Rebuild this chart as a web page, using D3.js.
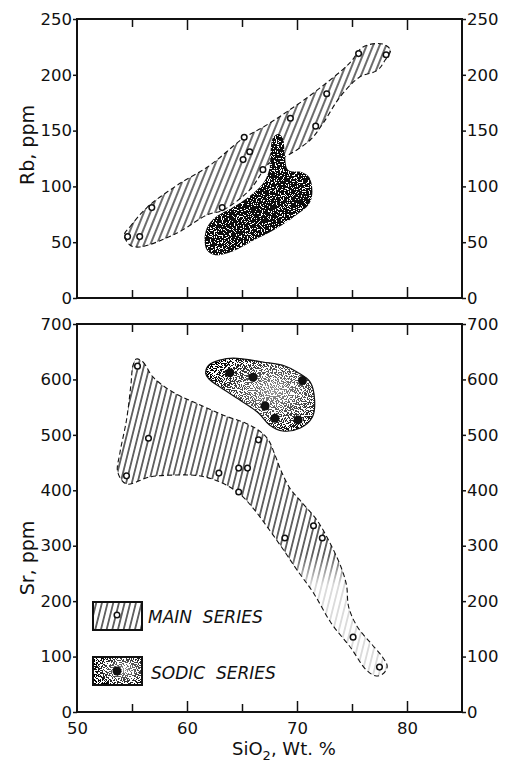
<!DOCTYPE html>
<html>
<head>
<meta charset="utf-8">
<script src="https://cdn.jsdelivr.net/npm/d3@7"></script>
<style>
  body { margin: 0; background: #fff; }
  text { font-family: "DejaVu Sans", sans-serif; fill: #111; }
</style>
</head>
<body>
<div id="chart"></div>
<script>
// tick values
let xMajor = [60, 70, 80];
let xMinor = [55, 65, 75];
let xLabels = [50, 60, 70, 80];
let rbTicks = [0, 50, 100, 150, 200, 250];
let srTicks = [0, 100, 200, 300, 400, 500, 600, 700];

// Rb panel, main series samples
let mainRbSiO2 = [54.6, 55.7, 56.8, 63.2, 65.2, 65.1, 65.7, 66.9, 69.4, 71.7, 72.7, 75.6, 78.1];
let mainRb = [55, 55, 81, 81, 144, 124, 131, 115, 161, 154, 183, 219, 218];

// Sr panel, main series samples
let mainSrSiO2 = [55.5, 56.5, 54.5, 62.9, 64.7, 65.5, 64.7, 66.5, 68.9, 71.5, 72.3, 75.1, 77.5];
let mainSr = [624, 494, 426, 431, 440, 440, 397, 491, 314, 336, 314, 135, 81];

// Sr panel, sodic series samples (dark dots)
let sodicSrSiO2 = [63.9, 66.0, 70.5, 67.1, 68.0, 70.1];
let sodicSr = [612, 604, 598, 552, 530, 527];

// envelopes [SiO2, ppm]
let mainRbField = [
  [54.3, 56.5], [54.8, 63.6], [56.4, 81.5], [59.1, 101], [62.1, 119], [65.1, 143],
  [66.9, 153], [69.1, 167], [71.8, 186], [74.8, 210.6], [76.0, 225], [77.8, 227.6],
  [78.5, 222], [78.0, 213], [77.3, 204], [75.7, 198], [73.9, 180], [72.4, 157],
  [71.2, 141.6], [68.7, 125.4], [67.5, 121], [65.7, 96.8], [63.3, 78.9], [61.8, 74.4],
  [59.1, 58.2], [55.7, 45.7], [54.8, 47.5]
];
let sodicRbField = [
  [61.6, 52], [61.8, 62.7], [62.5, 71.7], [64.2, 81.5], [65.7, 91.4], [67.0, 104],
  [67.5, 116.5], [67.6, 132.6], [67.8, 143.4], [68.3, 147], [68.7, 143.4], [68.9, 128],
  [69.2, 114.7], [70.4, 112.9], [71.1, 108.4], [71.4, 95], [71.1, 84.2], [69.7, 72.6],
  [67.9, 61], [66.1, 52], [64.2, 42], [62.5, 38.5], [61.8, 43]
];
let mainSrField = [
  [55.4, 636.8], [56.0, 631.4], [56.9, 604.4], [58.7, 577.3], [61.2, 553.9], [63.5, 534],
  [65.3, 521.4], [66.6, 507], [67.4, 490.7], [68.0, 463.6], [68.6, 433], [69.4, 402.3],
  [70.5, 377], [71.8, 346.4], [73.0, 304.9], [74.0, 261.6], [74.5, 229.1], [74.7, 189.4],
  [75.5, 153.3], [76.7, 124.5], [77.7, 101], [78.2, 83], [77.9, 70.4], [77.2, 65],
  [76.3, 75.8], [74.9, 115.5], [73.1, 160.6], [71.5, 214.7], [70.0, 256.2], [68.9, 288.7],
  [67.5, 328.3], [66.0, 368], [64.8, 393.3], [63.0, 415], [61.2, 425.8], [59.1, 427.6],
  [56.6, 424], [54.5, 411.3], [53.7, 433], [53.9, 467.3], [54.5, 526.8], [54.9, 590], [55.1, 626]
];
let sodicSrField = [
  [61.7, 611], [62.0, 626], [63.0, 635], [64.2, 638.6], [66.9, 631.4], [68.9, 624.2],
  [70.0, 613.4], [71.2, 595.3], [71.6, 562.9], [71.4, 532.2], [70.3, 512.4], [68.7, 507],
  [67.5, 517.8], [66.5, 539.4], [64.8, 562.9], [63.0, 586.3], [62.0, 600.8]
];

let svg = d3.select("#chart").append("svg")
  .attr("width", 508)
  .attr("height", 767);

let defs = svg.append("defs");

function hatch(id, w, angle) {
  let p = defs.append("pattern")
    .attr("id", id)
    .attr("patternUnits", "userSpaceOnUse")
    .attr("width", w)
    .attr("height", 10)
    .attr("patternTransform", `rotate(${angle})`);
  p.append("line")
    .attr("x1", w / 2).attr("y1", 0)
    .attr("x2", w / 2).attr("y2", 10)
    .attr("stroke", "#000")
    .attr("stroke-width", 1.15);
}
hatch("hatchTop", 6, 22);
hatch("hatchBot", 5.5, 14);

// speckle filter: white flecks over the dark fill
function stipple(id, table, seed) {
  let f = defs.append("filter")
    .attr("id", id)
    .attr("x", 0).attr("y", 0).attr("width", 1).attr("height", 1);
  f.append("feTurbulence")
    .attr("type", "fractalNoise")
    .attr("baseFrequency", 0.85)
    .attr("numOctaves", 2)
    .attr("seed", seed)
    .attr("result", "n");
  f.append("feColorMatrix")
    .attr("in", "n")
    .attr("type", "matrix")
    .attr("values", "0 0 0 0 1 0 0 0 0 1 0 0 0 0 1 1 0 0 0 0")
    .attr("result", "a");
  f.append("feComponentTransfer")
    .attr("in", "a")
    .attr("result", "s")
    .append("feFuncA")
    .attr("type", "discrete")
    .attr("tableValues", table);
  f.append("feComposite")
    .attr("in", "s")
    .attr("in2", "SourceGraphic")
    .attr("operator", "in")
    .attr("result", "sp");
  let m = f.append("feMerge");
  m.append("feMergeNode").attr("in", "SourceGraphic");
  m.append("feMergeNode").attr("in", "sp");
}
stipple("stipDark", "0 0 0 0 0 0 1 1 1 1", 3);
stipple("stipLight", "0 0 0 0 0 1 1 1 1 1", 7);

let rg = defs.append("radialGradient")
  .attr("id", "sodicGrad")
  .attr("cx", 0.62).attr("cy", 0.45).attr("r", 0.62);
rg.append("stop").attr("offset", "0%").attr("stop-color", "#999");
rg.append("stop").attr("offset", "55%").attr("stop-color", "#444");
rg.append("stop").attr("offset", "100%").attr("stop-color", "#000");

// hatch fades out in the low Sr tail
let fade = defs.append("linearGradient")
  .attr("id", "fadeGrad")
  .attr("gradientUnits", "userSpaceOnUse")
  .attr("x1", 0).attr("y1", 555).attr("x2", 0).attr("y2", 585);
fade.append("stop").attr("offset", "0%").attr("stop-color", "#fff");
fade.append("stop").attr("offset", "100%").attr("stop-color", "#3a3a3a");
defs.append("mask")
  .attr("id", "fadeMask")
  .attr("maskUnits", "userSpaceOnUse")
  .append("rect")
  .attr("width", 508).attr("height", 767)
  .attr("fill", "url(#fadeGrad)");

let x = d3.scaleLinear().domain([50, 85]).range([77, 462]);
let yRb = d3.scaleLinear().domain([0, 250]).range([298, 19]);
let ySr = d3.scaleLinear().domain([0, 700]).range([712, 324]);

function outline(yScale) {
  return d3.line()
    .x(d => x(d[0]))
    .y(d => yScale(d[1]))
    .curve(d3.curveCatmullRomClosed.alpha(0.5));
}

function frame(yScale, ticks) {
  let top = yScale.range()[1];
  let bottom = yScale.range()[0];
  let g = svg.append("g");

  // inward ticks on top and bottom edges
  [[d3.axisBottom, top, xMajor, 11], [d3.axisBottom, top, xMinor, 8],
   [d3.axisTop, bottom, xMajor, 11], [d3.axisTop, bottom, xMinor, 8]].forEach(a => {
    g.append("g")
      .attr("transform", `translate(0,${a[1]})`)
      .call(a[0](x).tickValues(a[2]).tickSize(a[3]).tickFormat(""))
      .call(s => s.select(".domain").remove())
      .selectAll("line").attr("stroke", "#111").attr("stroke-width", 1.6);
  });

  g.append("g")
    .attr("transform", "translate(77,0)")
    .call(d3.axisLeft(yScale).tickValues(ticks).tickSize(4).tickPadding(1))
    .call(s => s.select(".domain").remove());
  g.append("g")
    .attr("transform", "translate(462,0)")
    .call(d3.axisRight(yScale).tickValues(ticks).tickSize(4).tickPadding(1))
    .call(s => s.select(".domain").remove());
  g.selectAll(".tick text")
    .attr("font-size", "16.5px")
    .attr("font-family", "DejaVu Sans")
    .attr("fill", "#111");
  g.selectAll(".tick line").attr("stroke", "#111").attr("stroke-width", 1.5);

  g.append("rect")
    .attr("x", 77).attr("y", top)
    .attr("width", 462 - 77).attr("height", bottom - top)
    .attr("fill", "none")
    .attr("stroke", "#111")
    .attr("stroke-width", 2);
}

// ---- Rb panel
let lineRb = outline(yRb);
svg.append("path")
  .attr("d", lineRb(mainRbField))
  .attr("fill", "url(#hatchTop)")
  .attr("stroke", "#111")
  .attr("stroke-width", 1.1)
  .attr("stroke-dasharray", "5,3");
svg.append("path")
  .attr("d", lineRb(sodicRbField))
  .attr("fill", "#111")
  .attr("filter", "url(#stipDark)");
svg.append("g").selectAll("circle")
  .data(mainRb)
  .enter()
  .append("circle")
  .attr("cx", (d, i) => x(mainRbSiO2[i]))
  .attr("cy", d => yRb(d))
  .attr("r", 2.8)
  .attr("fill", "#fff")
  .attr("stroke", "#111")
  .attr("stroke-width", 1.5);
frame(yRb, rbTicks);

// ---- Sr panel
let lineSr = outline(ySr);
svg.append("path")
  .attr("d", lineSr(mainSrField))
  .attr("fill", "url(#hatchBot)")
  .attr("mask", "url(#fadeMask)");
svg.append("path")
  .attr("d", lineSr(mainSrField))
  .attr("fill", "none")
  .attr("stroke", "#111")
  .attr("stroke-width", 1.1)
  .attr("stroke-dasharray", "5,3");
svg.append("path")
  .attr("d", lineSr(sodicSrField))
  .attr("fill", "url(#sodicGrad)")
  .attr("filter", "url(#stipLight)");
svg.append("path")
  .attr("d", lineSr(sodicSrField))
  .attr("fill", "none")
  .attr("stroke", "#111")
  .attr("stroke-width", 1.2);
svg.append("g").selectAll("circle")
  .data(sodicSr)
  .enter()
  .append("circle")
  .attr("cx", (d, i) => x(sodicSrSiO2[i]))
  .attr("cy", d => ySr(d))
  .attr("r", 4.5)
  .attr("fill", "#111");
svg.append("g").selectAll("circle")
  .data(mainSr)
  .enter()
  .append("circle")
  .attr("cx", (d, i) => x(mainSrSiO2[i]))
  .attr("cy", d => ySr(d))
  .attr("r", 2.8)
  .attr("fill", "#fff")
  .attr("stroke", "#111")
  .attr("stroke-width", 1.5);
frame(ySr, srTicks);

// x labels under the Sr panel
svg.append("g")
  .attr("transform", "translate(0,712)")
  .call(d3.axisBottom(x).tickValues(xLabels).tickSize(0).tickPadding(10))
  .call(s => s.select(".domain").remove())
  .selectAll("text")
  .attr("font-size", "16.5px")
  .attr("font-family", "DejaVu Sans")
  .attr("fill", "#111");

// legend
let legend = svg.append("g");
legend.append("rect")
  .attr("x", 93).attr("y", 602).attr("width", 49).attr("height", 28)
  .attr("fill", "url(#hatchBot)")
  .attr("stroke", "#111").attr("stroke-width", 2);
legend.append("circle")
  .attr("cx", 117).attr("cy", 615).attr("r", 2.8)
  .attr("fill", "#fff").attr("stroke", "#111").attr("stroke-width", 1.5);
legend.append("rect")
  .attr("x", 93).attr("y", 657).attr("width", 49).attr("height", 28)
  .attr("fill", "url(#sodicGrad)")
  .attr("filter", "url(#stipLight)");
legend.append("rect")
  .attr("x", 93).attr("y", 657).attr("width", 49).attr("height", 28)
  .attr("fill", "none")
  .attr("stroke", "#111").attr("stroke-width", 2);
legend.append("circle")
  .attr("cx", 117).attr("cy", 671).attr("r", 4.5)
  .attr("fill", "#111");
legend.append("text")
  .attr("x", 148).attr("y", 623)
  .attr("font-size", "17px")
  .attr("font-style", "italic")
  .attr("xml:space", "preserve")
  .text("MAIN  SERIES");
legend.append("text")
  .attr("x", 151).attr("y", 679)
  .attr("font-size", "17px")
  .attr("font-style", "italic")
  .attr("xml:space", "preserve")
  .text("SODIC  SERIES");

// axis titles
svg.append("text")
  .attr("transform", "translate(34,145) rotate(-90)")
  .attr("text-anchor", "middle")
  .attr("font-size", "19px")
  .text("Rb, ppm");
svg.append("text")
  .attr("transform", "translate(34,558) rotate(-90)")
  .attr("text-anchor", "middle")
  .attr("font-size", "19px")
  .text("Sr, ppm");
let xt = svg.append("text")
  .attr("x", 232).attr("y", 755)
  .attr("font-size", "18px");
xt.append("tspan").text("SiO");
xt.append("tspan").attr("dy", 5).attr("font-size", "13px").text("2");
xt.append("tspan").attr("dy", -5).text(", Wt. %");
</script>
</body>
</html>
